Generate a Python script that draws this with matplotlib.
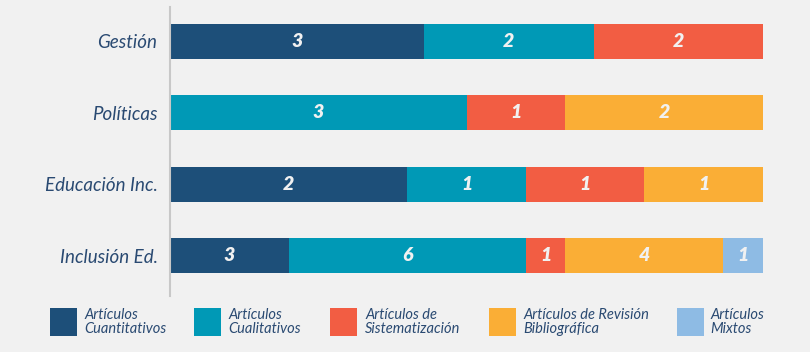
import numpy as np
import matplotlib.pyplot as plt
from matplotlib.patches import Rectangle

categories = ["Gestión", "Políticas", "Educación Inc.", "Inclusión Ed."]
series = ["Artículos\nCuantitativos", "Artículos\nCualitativos", "Artículos de\nSistematización",
          "Artículos de Revisión\nBibliográfica", "Artículos\nMixtos"]
cuantitativos = [3, 0, 2, 3]
cualitativos = [2, 3, 1, 6]
sistematizacion = [2, 1, 1, 1]
revision = [0, 2, 1, 4]
mixtos = [0, 0, 0, 1]

colors = ["#1d4f79", "#0099b6", "#f25d43", "#faae36", "#8ebbe4"]
bg = "#f1f1f1"
txt = "#2a4a72"
font = "Lato"

data = np.array([cuantitativos, cualitativos, sistematizacion, revision, mixtos], dtype=float)
totals = data.sum(axis=0)
shares = data / totals

fig = plt.figure(figsize=(8.1, 3.52), dpi=100, facecolor=bg)
ax = fig.add_axes([170 / 810, 56 / 352, 593 / 810, 289 / 352], facecolor=bg)

y = np.arange(len(categories))
left = np.zeros(len(categories))
for i in range(len(series)):
    ax.barh(y, shares[i], left=left, height=0.49, color=colors[i], linewidth=0)
    for j in range(len(categories)):
        if data[i, j] > 0:
            ax.text(left[j] + shares[i, j] / 2, y[j], f"{int(data[i, j])}", ha="center", va="center",
                    color="#f1f1f1", fontsize=14, fontweight="heavy", fontstyle="italic", family=font)
    left += shares[i]

ax.set_xlim(0, 1)
ax.set_ylim(3.56, -0.48)
ax.set_yticks(y)
ax.set_yticklabels(categories, fontsize=13.5, fontstyle="italic", color=txt, family=font)
ax.tick_params(axis="y", length=0, pad=9)
ax.set_xticks([])
for s in ["top", "right", "bottom"]:
    ax.spines[s].set_visible(False)
ax.spines["left"].set_color("#c8c8c8")
ax.spines["left"].set_linewidth(1.5)

# legend
patch_x = [50, 194, 330, 489, 677]
text_x = [84, 228, 365, 523, 710]
for px, tx, c, lab in zip(patch_x, text_x, colors, series):
    fig.patches.append(Rectangle((px / 810, 16 / 352), 27 / 810, 28 / 352, transform=fig.transFigure,
                                 facecolor=c, edgecolor="none"))
    fig.text(tx / 810, 30 / 352, lab, ha="left", va="center", fontsize=10.5, fontstyle="italic",
             color=txt, family=font, linespacing=0.95)

fig.savefig("out.png", dpi=100, facecolor=bg)
